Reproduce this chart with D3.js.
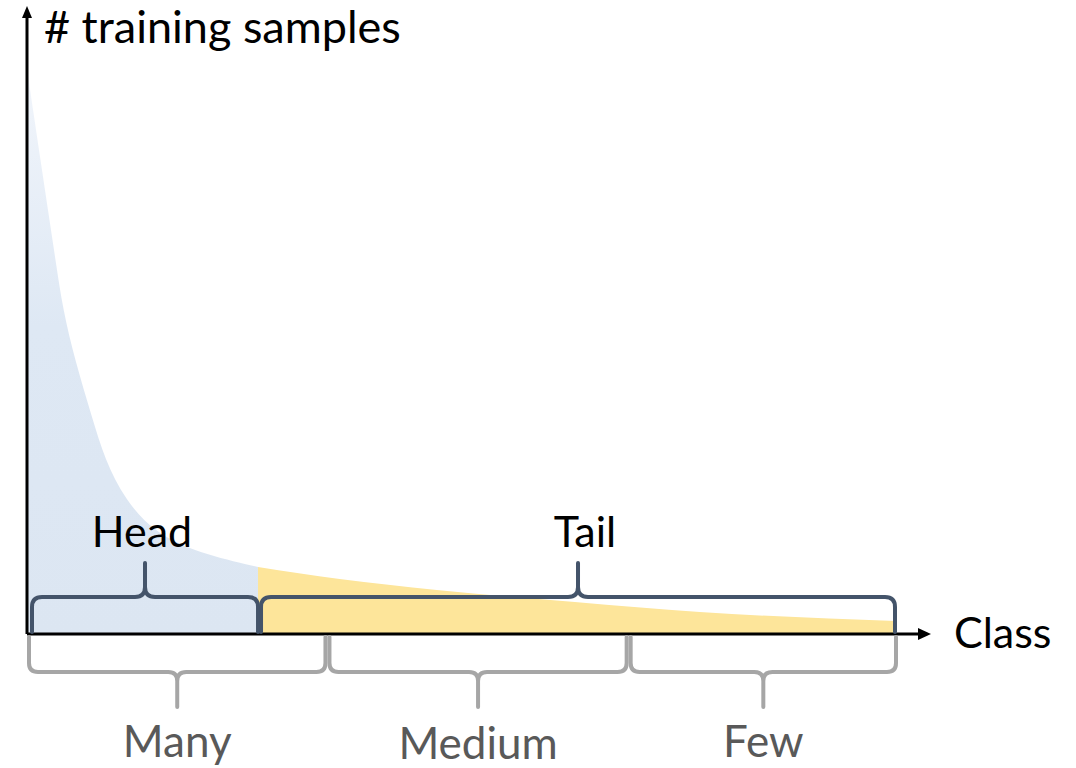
<!DOCTYPE html>
<html><head><meta charset="utf-8">
<script src="https://cdn.jsdelivr.net/npm/d3@7"></script>
<style>html,body{margin:0;padding:0;background:#fff;}svg{display:block;}</style>
</head><body>
<svg id="chart" width="1076" height="768"></svg>
<script>
// ---- data (class rank, # training samples, arbitrary units) ----
const classRank = [0, 0.58, 1.44, 2.30, 3.17, 4.03, 5.41, 7.37, 8.87, 11.18, 14.63, 19.59, 26.5, 35.9, 47.1, 63.0, 77.4, 100];
const samples   = [559, 524, 474, 424, 374, 324, 274, 217, 174, 134, 101, 81, 67, 55, 44, 32, 22, 13];
const headTailSplit = 26.5;               // class rank where head ends
const groupSplits = [0, 34.5, 69.2, 100]; // Many | Medium | Few
const groupLabels = ["Many", "Medium", "Few"];
const regionLabels = ["Head", "Tail"];
const yLabel = "# training samples";
const xLabel = "Class";

const svg = d3.select("#chart");
const x = d3.scaleLinear().domain([0, 100]).range([28, 896]);
const y = d3.scaleLinear().domain([0, 625]).range([634, 9]);
const font = "Lato, 'Open Sans', sans-serif";

const pts = classRank.map((c, i) => ({c, v: samples[i]}));
const head = pts.filter(d => d.c <= headTailSplit);
const tail = pts.filter(d => d.c >= headTailSplit);

const areaHead = d3.area().x(d => x(d.c)).y0(y(0)).y1(d => y(d.v)).curve(d3.curveBasis);
const areaTail = d3.area().x(d => x(d.c)).y0(y(0)).y1(d => y(d.v)).curve(d3.curveMonotoneX);

const defs = svg.append("defs");
const g = defs.append("linearGradient").attr("id","blueGrad").attr("x1",0).attr("y1",0).attr("x2",0).attr("y2",1);
g.append("stop").attr("offset","0%").attr("stop-color","#f1f5fb");
g.append("stop").attr("offset","45%").attr("stop-color","#dee8f4");
g.append("stop").attr("offset","100%").attr("stop-color","#dce6f2");

svg.append("path").datum(head).attr("d", areaHead).attr("fill", "url(#blueGrad)");
svg.append("path").datum(tail).attr("d", areaTail).attr("fill", "#fde59a");

// axes
const axisCol = "#000";
const x0 = x(0) - 1, yb = y(0);
svg.append("line").attr("x1", x0).attr("y1", yb).attr("x2", x0).attr("y2", 16)
  .attr("stroke", axisCol).attr("stroke-width", 3);
svg.append("path").attr("d", `M${x0-5},${18} L${x0},${6} L${x0+5},${18} Z`).attr("fill", axisCol);
svg.append("line").attr("x1", x0).attr("y1", yb).attr("x2", 920).attr("y2", yb)
  .attr("stroke", axisCol).attr("stroke-width", 3);
svg.append("path").attr("d", `M${918},${yb-6} L${931},${yb} L${918},${yb+6} Z`).attr("fill", axisCol);

// curly brace path between xa and xb
function brace(xa, xb, yEnd, yLine, yTip, r) {
  const xm = (xa + xb) / 2;
  const s = Math.sign(yTip - yLine);
  return `M${xa},${yEnd} L${xa},${yLine - s*r} Q${xa},${yLine} ${xa + r},${yLine} ` +
         `L${xm - r},${yLine} Q${xm},${yLine} ${xm},${yLine + s*r} L${xm},${yTip} ` +
         `M${xm},${yLine + s*r} Q${xm},${yLine} ${xm + r},${yLine} L${xb - r},${yLine} ` +
         `Q${xb},${yLine} ${xb},${yLine - s*r} L${xb},${yEnd}`;
}

// head / tail braces
const dark = "#44546a";
const htBounds = [[x(0) + 4, x(headTailSplit)], [x(headTailSplit) + 3, x(100) - 1]];
const labelShift = [-3, 7];
htBounds.forEach((b, i) => {
  svg.append("path").attr("d", brace(b[0], b[1], yb - 2, 597, 563, 10))
    .attr("fill", "none").attr("stroke", dark).attr("stroke-width", 4)
    .attr("stroke-linejoin","round").attr("stroke-linecap","round");
  svg.append("text").attr("x", (b[0] + b[1]) / 2 + labelShift[i]).attr("y", 547)
    .attr("text-anchor", "middle").attr("font-family", font)
    .attr("font-size", 43).attr("fill", "#000").text(regionLabels[i]);
});

// many / medium / few braces
const grey = "#a6a6a6";
for (let i = 0; i < 3; i++) {
  const xa = x(groupSplits[i]) + (i === 0 ? 1 : 2), xb = x(groupSplits[i + 1]) - (i === 2 ? 0 : 2);
  svg.append("path").attr("d", brace(xa, xb, yb + 3, 672, 707, 9))
    .attr("fill", "none").attr("stroke", grey).attr("stroke-width", 4).attr("stroke-linecap","round");
  svg.append("text").attr("x", (xa + xb) / 2).attr("y", i === 1 ? 759 : 757)
    .attr("text-anchor", "middle").attr("font-family", font)
    .attr("font-size", 44).attr("fill", "#595959").text(groupLabels[i]);
}

// axis titles
svg.append("text").attr("x", 44).attr("y", 43).attr("font-family", font)
  .attr("font-size", 45).attr("fill", "#000").text(yLabel);
svg.append("text").attr("x", 954).attr("y", 648).attr("font-family", font)
  .attr("font-size", 43).attr("fill", "#000").text(xLabel);
</script>
</body></html>
